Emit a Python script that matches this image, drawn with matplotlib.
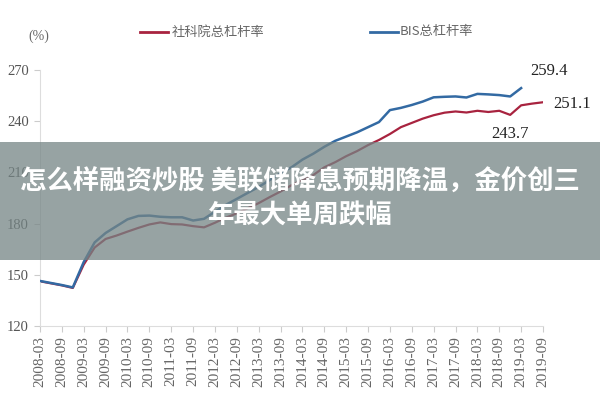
import matplotlib
matplotlib.use("Agg")
import matplotlib.pyplot as plt
from matplotlib.patches import Rectangle

# quarterly data, 2008-03 .. 2019-09
tick_labels = [f"{y}-{m}" for y in range(2008, 2020) for m in ("03", "09")]

cass = [146.2, 145.0, 143.8, 142.3, 156.0, 166.0, 171.0, 173.0, 175.3, 177.5,
        179.5, 180.7, 179.7, 179.5, 178.5, 177.8, 180.5, 183.5, 186.0, 189.0,
        192.0, 195.5, 198.8, 202.5, 205.6, 208.5, 213.0, 216.0, 219.5, 222.5,
        226.0, 229.0, 232.5, 236.5, 239.0, 241.5, 243.5, 245.0, 245.7, 245.1,
        246.1, 245.4, 246.1, 243.7, 249.3, 250.3, 251.1]
bis = [146.4, 145.2, 144.0, 142.6, 157.5, 169.0, 174.5, 178.5, 182.5, 184.5,
       184.7, 184.0, 183.7, 183.7, 181.8, 182.8, 187.0, 191.0, 194.5, 198.0,
       201.5, 205.5, 209.5, 213.0, 217.5, 221.0, 225.0, 228.5, 231.0, 233.5,
       236.5, 239.5, 246.5, 247.8, 249.5, 251.5, 254.0, 254.3, 254.5, 253.9,
       256.0, 255.7, 255.3, 254.5, 259.4]
yticks = [120, 150, 180, 210, 240, 270]
legend_names = ["社科院总杠杆率", "BIS总杠杆率"]
title_text = "怎么样融资炒股 美联储降息预期降温，金价创三\n年最大单周跌幅"

red = "#A8233F"
blue = "#336AA3"

fig = plt.figure(figsize=(6, 4), dpi=100)
ax = fig.add_axes([40/600, 1-326/400, 503/600, 256/400])

ax.plot(range(len(cass)), cass, color=red, lw=1.6, zorder=2)
ax.plot(range(len(bis)), bis, color=blue, lw=1.8, zorder=3)

ax.set_xlim(0, len(cass) - 1)
ax.set_ylim(120, 270)
ax.set_yticks(yticks)
ax.set_yticklabels([str(v) for v in yticks], family="Liberation Serif",
                   fontsize=10.5, color="#555555")
ax.set_xticks(range(0, len(cass), 2))
ax.set_xticklabels(tick_labels, rotation=90, family="Liberation Serif",
                   fontsize=11, color="#666666")
for s in ("top", "right"):
    ax.spines[s].set_visible(False)
for s in ("left", "bottom"):
    ax.spines[s].set_color("#dddddd")
ax.tick_params(axis="both", colors="#cccccc", length=4, width=0.8)
ax.tick_params(axis="y", labelcolor="#555555", pad=4)
ax.tick_params(axis="x", labelcolor="#666666", pad=3)

# annotations
ann = dict(family="Liberation Serif", fontsize=12, color="#222222",
           textcoords="offset points", ha="center", va="center")
ax.annotate(f"{bis[-1]:.1f}", xy=(len(bis)-1, bis[-1]), xytext=(20, 12), **ann)
ax.annotate(f"{cass[-1]:.1f}", xy=(len(cass)-1, cass[-1]), xytext=(21, -1), **ann)
ax.annotate(f"{cass[43]:.1f}", xy=(43, cass[43]), xytext=(0, -14), **ann)

# legend
fig.add_artist(plt.Line2D([140/600, 168/600], [1-32/400]*2, color=red, lw=2))
fig.text(172/600, 1-32/400, legend_names[0], family="Noto Sans CJK SC",
         fontsize=9.5, color="#666666", va="center", ha="left")
fig.add_artist(plt.Line2D([370/600, 398/600], [1-32/400]*2, color=blue, lw=2))
fig.text(400/600, 1-32/400, legend_names[1], family="Noto Sans CJK SC",
         fontsize=9.5, color="#666666", va="center", ha="left")
fig.text(39/600, 1-36/400, "(%)", family="Liberation Serif", fontsize=10,
         color="#666666", va="center", ha="center")

# banner
banner = Rectangle((0, 1-260/400), 1, 118/400, transform=fig.transFigure,
                   facecolor=(0.46, 0.52, 0.52), alpha=0.75, zorder=10,
                   edgecolor="none")
fig.add_artist(banner)
fig.text(0.5, 1-199/400, title_text, family="Noto Sans CJK SC",
         fontsize=19, fontweight="bold", color="white", ha="center",
         va="center", linespacing=1.35, zorder=11)

fig.savefig("out.png", dpi=100)
